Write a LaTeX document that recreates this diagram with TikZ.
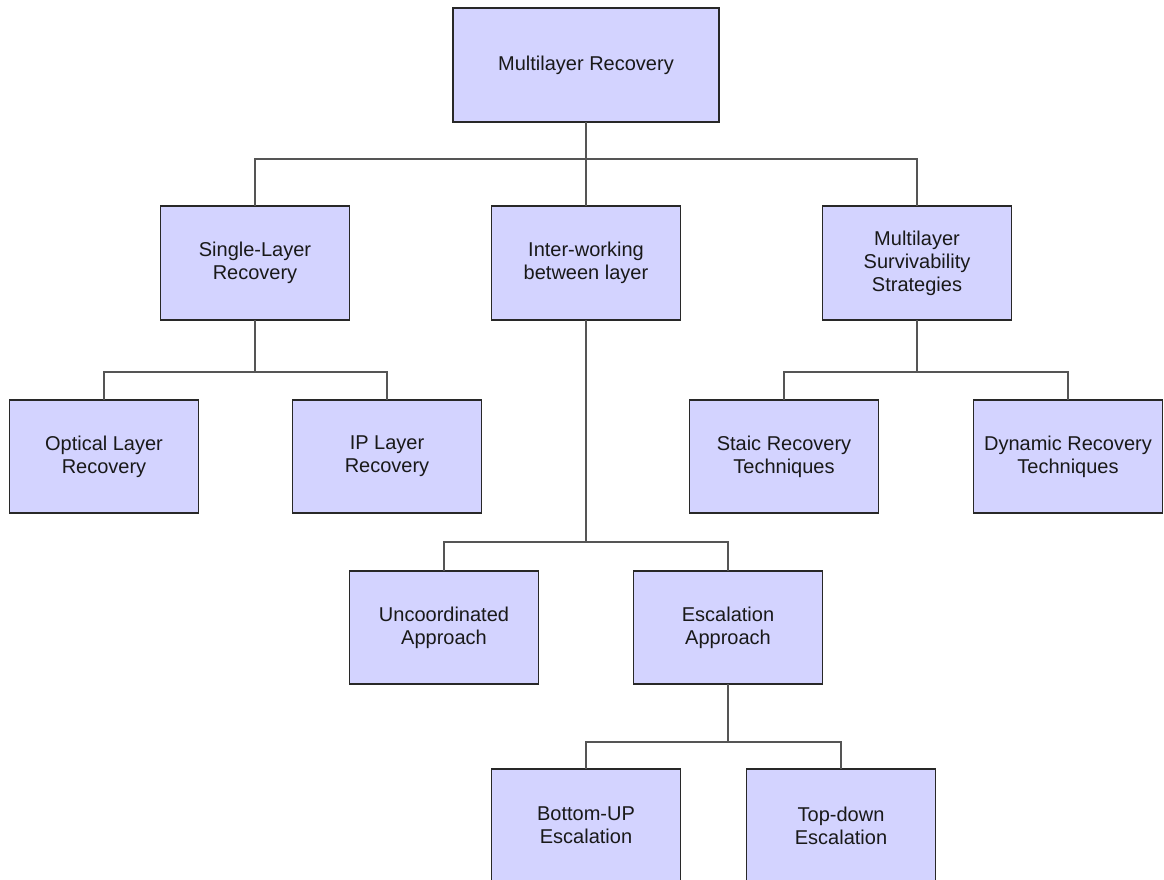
\documentclass[tikz,border=0pt]{standalone}
\usepackage{fontspec}
\setmainfont{Liberation Sans}
\definecolor{boxfill}{RGB}{211,211,255}
\definecolor{boxline}{RGB}{40,40,40}
\definecolor{linkline}{RGB}{85,85,85}
\begin{document}
\begin{tikzpicture}[x=1pt,y=-1pt,
  box/.style={draw=boxline, fill=boxfill, line width=1.2pt,
    minimum width=189pt, minimum height=113pt, inner sep=0pt, outer sep=0pt,
    align=center, text=black!90, font=\fontsize{20}{23}\selectfont},
  link/.style={draw=linkline, line width=1.3pt}]
\useasboundingbox (0,0) rectangle (1164,880);
\fill[white] (0,0) rectangle (1164,880);

% tree nodes
\node[box, minimum width=266pt, minimum height=114pt] (root) at (586,65) {Multilayer Recovery};
\node[box, minimum height=114pt] (single) at (255,263) {Single-Layer\\Recovery};
\node[box, minimum height=114pt] (inter) at (586,263) {Inter-working\\between layer};
\node[box, minimum height=114pt] (surv) at (917,263) {Multilayer\\Survivability\\Strategies};
\node[box] (optical) at (104,456.5) {Optical Layer\\Recovery};
\node[box] (ip) at (387,456.5) {IP Layer\\Recovery};
\node[box] (staic) at (784,456.5) {Staic Recovery\\Techniques};
\node[box] (dynamic) at (1068,456.5) {Dynamic Recovery\\Techniques};
\node[box] (uncoord) at (444,627.5) {Uncoordinated\\Approach};
\node[box] (escal) at (728,627.5) {Escalation\\Approach};
\node[box] (bottomup) at (586,825.5) {Bottom-UP\\Escalation};
\node[box] (topdown) at (841,825.5) {Top-down\\Escalation};

% level 1 branches
\draw[link] (single.north) -- ++(0,-47) coordinate (j1) -| (surv.north);
\draw[link] (root.south) -- (inter.north);

% single-layer branches
\draw[link] (optical.north) -- ++(0,-28) coordinate (j2) -| (ip.north);
\draw[link] (single.south) -- (single.south |- j2);

% survivability branches
\draw[link] (staic.north) -- ++(0,-28) coordinate (j3) -| (dynamic.north);
\draw[link] (surv.south) -- (surv.south |- j3);

% inter-working branches
\draw[link] (uncoord.north) -- ++(0,-29) coordinate (j4) -| (escal.north);
\draw[link] (inter.south) -- (inter.south |- j4);

% escalation branches
\draw[link] (bottomup.north) -- ++(0,-27) coordinate (j5) -| (topdown.north);
\draw[link] (escal.south) -- (escal.south |- j5);
\end{tikzpicture}
\end{document}
